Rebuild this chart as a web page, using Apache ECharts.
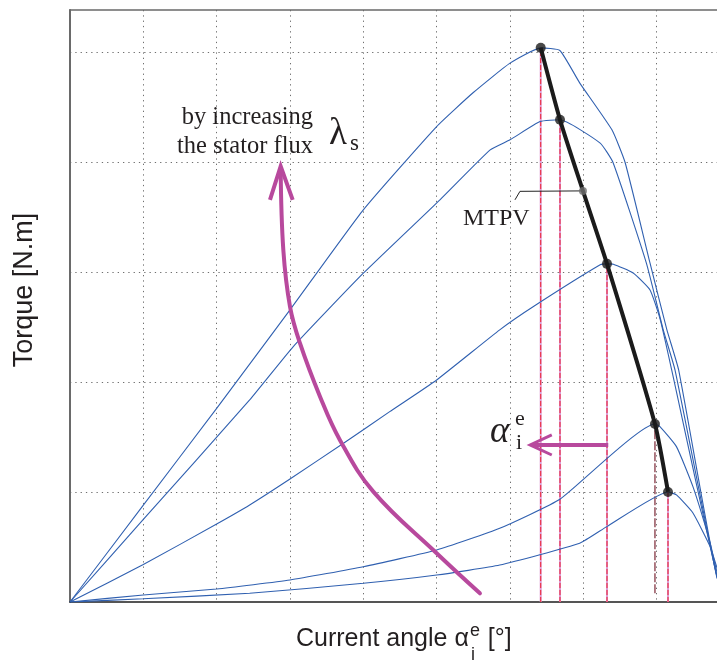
<!DOCTYPE html>
<html>
<head>
<meta charset="utf-8">
<script src="https://cdn.jsdelivr.net/npm/echarts@6/dist/echarts.min.js"></script>
<style>
  html, body { margin: 0; padding: 0; background: #ffffff; }
  #chart { width: 717px; height: 666px; }
</style>
</head>
<body>
<div id="chart"></div>
<script>
// Torque vs current angle, one curve per stator flux level: [angle (deg), torque]
const fluxCurve1 = [[0,0],[10,0.88],[20,1.76],[30,2.655],[40,3.564],[50,4.321],[55,4.63],[60,4.897],[64.19,5.036],[66.8,5.012],[69.5,4.718],[73.9,4.291],[75.7,3.994],[79.1,3.079],[81.4,2.473],[83.0,2.109],[88.2,0.227],[90,0]];
const fluxCurve2 = [[0,0],[10,0.75],[24.5,1.836],[30.45,2.321],[40,2.988],[50.45,3.655],[57.3,4.109],[60,4.2],[64.1,4.366],[66.82,4.382],[72.3,4.17],[74.05,3.994],[78.6,3.079],[80.9,2.473],[82.5,2.109],[88.2,0.236],[90,0]];
const fluxCurve3 = [[0,0],[10,0.34],[20,0.709],[24.5,0.882],[30,1.118],[37.3,1.443],[43.6,1.73],[50,2.018],[58.6,2.473],[63.2,2.685],[72.3,3.064],[73.23,3.073],[74.1,3.07],[76.8,2.99],[79.1,2.836],[80.5,2.564],[82.05,2.109],[88.2,0.245],[90,0]];
const fluxCurve4 = [[0,0],[10,0.064],[20,0.118],[30,0.2],[40,0.321],[50,0.473],[58.6,0.67],[66.8,0.934],[79.77,1.618],[80.45,1.594],[82.7,1.412],[84.95,1.048],[87.3,0.536],[88.2,0.28],[90,0]];
const fluxCurve5 = [[0,0],[10,0.03],[24.5,0.079],[40,0.17],[50,0.245],[58.6,0.336],[69.5,0.534],[73.2,0.685],[81.55,1.0],[82.7,0.973],[84.95,0.809],[87.3,0.503],[88.2,0.318],[90,0]];
const fluxCurves = [fluxCurve1, fluxCurve2, fluxCurve3, fluxCurve4, fluxCurve5];

// Maximum torque per volt trajectory through the curve peaks
const mtpvPeaks = [[64.19,5.036],[66.82,4.382],[73.23,3.073],[79.77,1.618],[81.55,1.0]];
const mtpvPath = [[64.19,5.036],[66.82,4.382],[69.95,3.736],[73.23,3.073],[79.77,1.618],[81.55,1.0]];
const mtpvTag = [[69.95,3.736]];
const mtpvLeader = [[69.95,3.736],[61.36,3.732],[60.68,3.655]];
// lower end of each peak projection line
const peakDropEnds = [0, 0, 0, 0.08, 0];

// direction arrows
const fluxArrow = [[55.9,0.079],[50.0,0.443],[41.36,1.003],[36.8,1.473],[34.1,1.866],[31.36,2.352],[30.0,2.685],[29.09,3.2],[28.73,3.93]];
const fluxArrowHead = [[27.27,3.655],[28.73,3.96],[30.37,3.655]];
const angleArrow = [[73.4,1.427],[62.9,1.427]];
const angleArrowHead = [[65.7,1.518],[62.75,1.427],[65.7,1.336]];

// visible angle window and torque window
const xTicks = { min: 0, max: 88.23, interval: 10 };
const yTicks = { min: 0, max: 5.38, interval: 1 };

const BLUE = '#3060b0';
const MAGENTA = '#b8499d';
const SERIF = '"Liberation Serif", "Times New Roman", serif';
const SANS = '"Liberation Sans", Arial, sans-serif';

const chart = echarts.init(document.getElementById('chart'), null, { renderer: 'canvas' });

const series = [];

// peak projection lines
mtpvPeaks.forEach((p, i) => {
  const seg = [[p[0], peakDropEnds[i]], [p[0], p[1]]];
  if (i !== 3) {
    series.push({ type: 'line', data: seg, symbol: 'none', silent: true, z: 2,
      lineStyle: { color: '#dc9bd2', width: 2 } });
    series.push({ type: 'line', data: seg, symbol: 'none', silent: true, z: 2,
      lineStyle: { color: '#ee2233', width: 1, type: [5, 2] } });
  } else {
    series.push({ type: 'line', data: seg, symbol: 'none', silent: true, z: 2,
      lineStyle: { color: '#6e1020', width: 1.1, type: [9, 2] } });
  }
});

// torque curves
fluxCurves.forEach(c => {
  series.push({ type: 'line', data: c, symbol: 'none', smooth: 0.15, silent: true, z: 3,
    lineStyle: { color: BLUE, width: 1.1 } });
});

// MTPV trajectory
series.push({ type: 'line', data: mtpvPath, symbol: 'none', smooth: 0.2, silent: true, z: 4,
  lineStyle: { color: '#1b1b1b', width: 4 } });
series.push({ type: 'scatter', data: mtpvPeaks, symbol: 'circle', symbolSize: 10, silent: true, z: 5,
  itemStyle: { color: '#1b1b1b' } });
series.push({ type: 'scatter', data: mtpvTag, symbol: 'circle', symbolSize: 8, silent: true, z: 5,
  itemStyle: { color: '#6f6f6f' } });
series.push({ type: 'line', data: mtpvLeader, symbol: 'none', silent: true, z: 4,
  lineStyle: { color: '#222222', width: 1 } });

// arrows
series.push({ type: 'line', data: fluxArrow, symbol: 'none', smooth: 0.4, silent: true, z: 6,
  lineStyle: { color: MAGENTA, width: 4, cap: 'round' } });
series.push({ type: 'line', data: fluxArrowHead, symbol: 'none', silent: true, z: 6,
  lineStyle: { color: MAGENTA, width: 4, join: 'miter' } });
series.push({ type: 'line', data: angleArrow, symbol: 'none', silent: true, z: 6,
  lineStyle: { color: MAGENTA, width: 4 } });
series.push({ type: 'line', data: angleArrowHead, symbol: 'none', silent: true, z: 6,
  lineStyle: { color: MAGENTA, width: 3, join: 'miter' } });

const gridLine = { show: true, showMinLine: false, showMaxLine: false,
  lineStyle: { color: '#6f6f6f', width: 1, type: [1.3, 4] } };

chart.setOption({
  animation: false,
  backgroundColor: '#ffffff',
  grid: { left: 70, top: 10, right: 0, bottom: 64, show: false },
  xAxis: [{
    type: 'value', min: xTicks.min, max: xTicks.max, interval: xTicks.interval, position: 'bottom',
    axisLine: { show: true, lineStyle: { color: '#1e1e1e', width: 1.5 } },
    axisTick: { show: false }, axisLabel: { show: false },
    splitLine: gridLine
  }, {
    type: 'value', min: xTicks.min, max: xTicks.max, interval: xTicks.interval, position: 'top',
    axisLine: { show: true, lineStyle: { color: '#6a6a6a', width: 1.5 } },
    axisTick: { show: false }, axisLabel: { show: false }, splitLine: { show: false }
  }],
  yAxis: {
    type: 'value', min: yTicks.min, max: yTicks.max, interval: yTicks.interval,
    axisLine: { show: true, lineStyle: { color: '#6a6a6a', width: 2 } },
    axisTick: { show: false }, axisLabel: { show: false },
    splitLine: gridLine
  },
  series: series
});

// text helpers: place by baseline
function measure(str, font) {
  const ctx = document.createElement('canvas').getContext('2d');
  ctx.font = font;
  return ctx.measureText(str).width;
}
function txt(x, baseline, str, fs, family, opts) {
  opts = opts || {};
  return {
    type: 'text', x: x, y: baseline - 0.34 * fs, silent: true, z: 10,
    rotation: opts.rotation || 0,
    style: {
      text: str, fill: opts.color || '#231f20',
      font: (opts.italic ? 'italic ' : '') + fs + 'px ' + family,
      textAlign: opts.align || 'left', textVerticalAlign: 'middle'
    }
  };
}

const graphics = [];
// flux annotation
graphics.push(txt(313, 126, 'by increasing', 24.5, SERIF, { align: 'right' }));
graphics.push(txt(313, 155, 'the stator flux', 24.5, SERIF, { align: 'right' }));
graphics.push(txt(329, 147, 'λ', 37, SERIF));
graphics.push(txt(350, 152, 's', 23, SERIF));
// MTPV label
graphics.push(txt(463, 227, 'MTPV', 24, SERIF));
// current angle symbol
graphics.push(txt(490, 445, 'α', 37, SERIF, { italic: true }));
graphics.push(txt(515, 427, 'e', 22, SERIF));
graphics.push(txt(516, 451, 'i', 22, SERIF));

// x axis title
const tFs = 25, tSub = 18;
const xStart = 296, xBase = 648;
const mainPart = 'Current angle α';
const w1 = measure(mainPart, tFs + 'px ' + SANS);
graphics.push(txt(xStart, xBase, mainPart, tFs, SANS));
graphics.push(txt(xStart + w1 + 1, xBase - 11, 'e', tSub, SANS));
graphics.push(txt(xStart + w1 + 2, xBase + 13, 'i', tSub, SANS));
const wE = measure('e', tSub + 'px ' + SANS);
graphics.push(txt(xStart + w1 + wE + 2, xBase, ' [°]', tFs, SANS));

// y axis title
graphics.push({
  type: 'text', x: 25, y: 290, rotation: Math.PI / 2, silent: true, z: 10,
  style: { text: 'Torque [N.m]', fill: '#231f20', font: '27px ' + SANS, textAlign: 'center', textVerticalAlign: 'middle' }
});

chart.setOption({ graphic: graphics });
</script>
</body>
</html>
